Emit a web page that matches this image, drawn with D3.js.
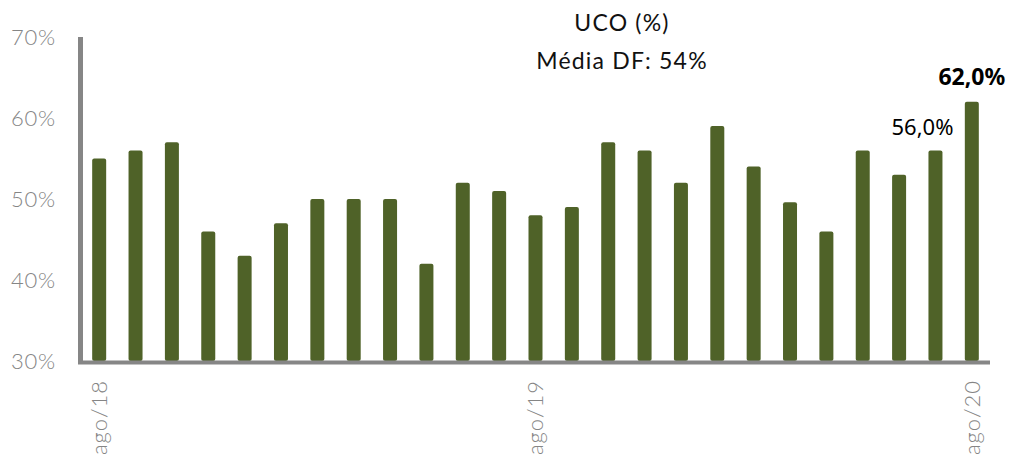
<!DOCTYPE html>
<html><head><meta charset="utf-8">
<script src="https://cdn.jsdelivr.net/npm/d3@7"></script>
<style>body{margin:0;background:#fff}svg{display:block}</style>
</head><body>
<svg id="c" width="1012" height="461"></svg>
<script>
const categories = ["ago/18","set/18","out/18","nov/18","dez/18","jan/19","fev/19","mar/19","abr/19","mai/19","jun/19","jul/19","ago/19","set/19","out/19","nov/19","dez/19","jan/20","fev/20","mar/20","abr/20","mai/20","jun/20","jul/20","ago/20"];
const values = [55,56,57,46,43,47,50,50,50,42,52,51,48,49,57,56,52,59,54,49.6,46,56,53,56,62];
const shownTicks = ["ago/18","ago/19","ago/20"];
const yTicks = [30,40,50,60,70];
const dataLabels = [{cat:"jul/20", text:"56,0%", bold:false},{cat:"ago/20", text:"62,0%", bold:true}];
const titleLines = ["UCO (%)","Média DF: 54%"];

const svg = d3.select("#c");
const x = d3.scaleBand().domain(categories).range([81, 990]).paddingInner(0.615).paddingOuter(0.3075);
const y = d3.scaleLinear().domain([30, 70]).range([361, 37]);

// bars
svg.append("g").selectAll("rect").data(categories).join("rect")
  .attr("x", d => x(d)).attr("width", x.bandwidth())
  .attr("y", (d,i) => y(values[i])).attr("height", (d,i) => y(30) - y(values[i]))
  .attr("rx", 2).attr("ry", 2)
  .attr("fill", "#4f6228");

// y axis line
svg.append("line").attr("x1", 80.5).attr("x2", 80.5).attr("y1", y(70)).attr("y2", 362)
  .attr("stroke", "#868686").attr("stroke-width", 5);
// x axis line
svg.append("line").attr("x1", 78).attr("x2", 990).attr("y1", 362.5).attr("y2", 362.5)
  .attr("stroke", "#868686").attr("stroke-width", 4);

// y ticks
const yAxis = d3.axisLeft(y).tickValues(yTicks).tickFormat(d => d + "%").tickSize(0).tickPadding(0);
const ya = svg.append("g").attr("transform", "translate(56,0)").call(yAxis);
ya.select(".domain").remove();
ya.selectAll("text").attr("font-family", "Lato, sans-serif").attr("font-size", 22)
  .attr("letter-spacing", 0.8)
  .attr("fill", "#858585").attr("font-weight", 300).attr("dy", "0.35em");

// x ticks
const xAxis = d3.axisBottom(x).tickValues(shownTicks).tickSize(0).tickPadding(0);
const xa = svg.append("g").attr("transform", "translate(0,380)").call(xAxis);
xa.select(".domain").remove();
xa.selectAll("text").attr("font-family", "Lato, sans-serif").attr("font-size", 22)
  .attr("letter-spacing", 1)
  .attr("fill", "#858585").attr("font-weight", 300)
  .attr("transform", "rotate(-90)").attr("text-anchor", "end")
  .attr("x", 0).attr("y", 0).attr("dy", "0.35em");

// title
svg.append("g").selectAll("text").data(titleLines).join("text")
  .attr("x", 622).attr("y", (d,i) => 31 + i*38)
  .attr("text-anchor", "middle").attr("font-family", "Lato, sans-serif")
  .attr("font-size", 23).attr("letter-spacing", 1.2).attr("fill", "#111").text(d => d);

// data labels
svg.append("g").selectAll("text").data(dataLabels).join("text")
  .attr("x", d => x(d.cat) + x.bandwidth()/2 - (d.bold ? 0 : 13))
  .attr("y", d => y(values[categories.indexOf(d.cat)]) - (d.bold ? 17 : 15))
  .attr("text-anchor", "middle").attr("font-family", "'Noto Sans', sans-serif")
  .attr("font-size", d => d.bold ? 23 : 22).attr("font-weight", d => d.bold ? 700 : 400)
  .attr("fill", "#000").text(d => d.text);
</script>
</body></html>
